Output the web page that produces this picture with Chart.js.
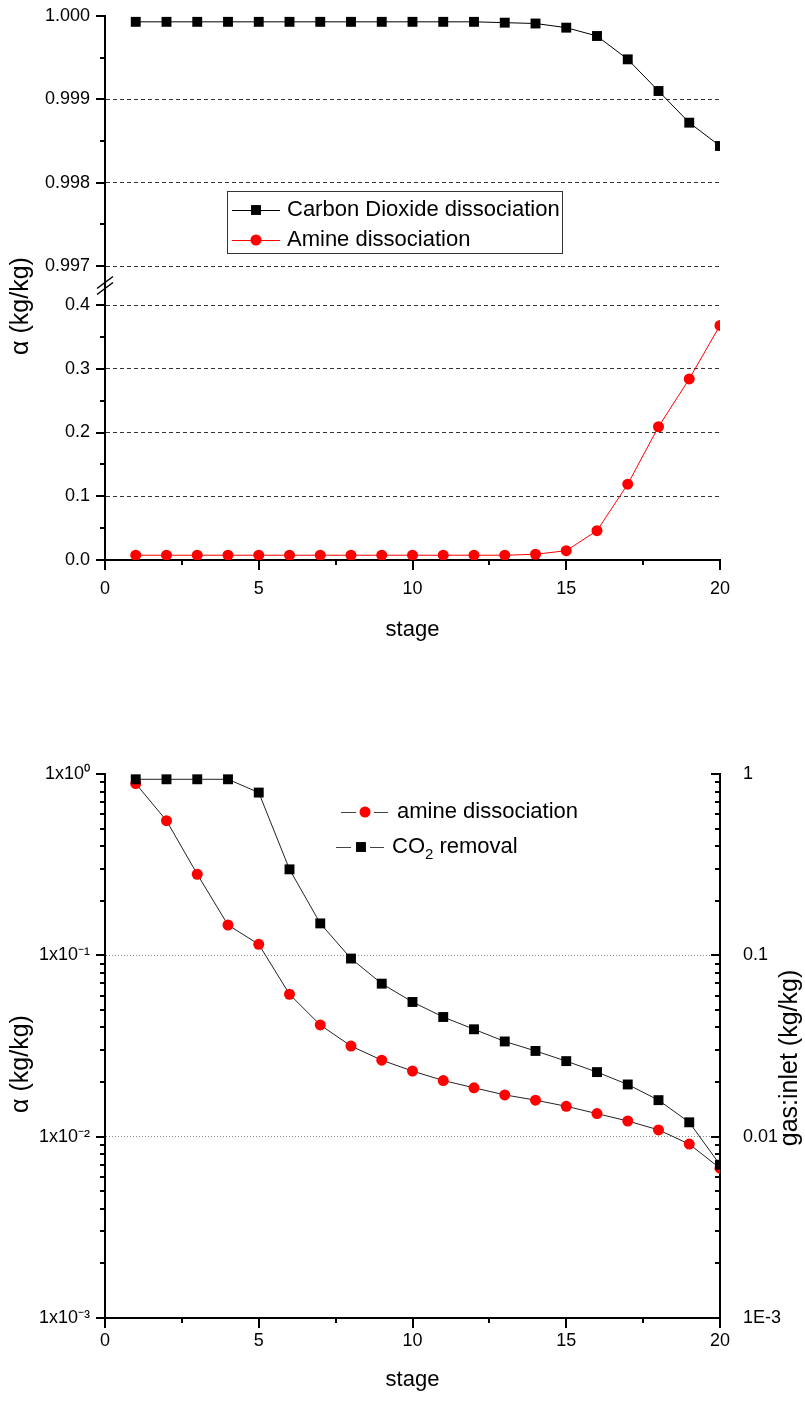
<!DOCTYPE html>
<html><head><meta charset="utf-8">
<script src="https://cdn.jsdelivr.net/npm/chart.js@4"></script>
<style>
html,body{margin:0;padding:0;background:#fff;}
canvas{display:block;}
</style></head><body>
<canvas id="c1" width="805" height="700"></canvas>
<canvas id="c2" width="805" height="704"></canvas>
<script>
const FONT='"Liberation Sans",Arial,sans-serif';
Chart.defaults.font.family=FONT;
Chart.defaults.color="#000";
Chart.defaults.animation=false;
const H=Chart.helpers;

// data
const STAGES=[1,2,3,4,5,6,7,8,9,10,11,12,13,14,15,16,17,18,19,20];
const CO2_DISS=[0.99993,0.99993,0.99993,0.99993,0.99993,0.99993,0.99993,0.99993,0.99993,0.99993,0.99993,0.99993,0.99992,0.99991,0.99986,0.99976,0.99948,0.99910,0.99872,0.99844];
const AMINE_DISS=[0.0075,0.0075,0.0075,0.0075,0.0075,0.0075,0.0075,0.0075,0.0075,0.0075,0.0075,0.0075,0.0075,0.009,0.0146,0.046,0.119,0.209,0.284,0.368];
const AMINE_LOG=[0.885,0.553,0.280,0.147,0.115,0.061,0.0413,0.0316,0.0264,0.0230,0.0204,0.0186,0.0170,0.0159,0.0147,0.0134,0.0122,0.0109,0.0091,0.0067];
const CO2_REMOVAL=[0.935,0.935,0.935,0.935,0.79,0.298,0.150,0.096,0.0698,0.0553,0.0457,0.0391,0.0335,0.0297,0.0261,0.0227,0.0194,0.0159,0.0120,0.0070];

// ticks
const X_MAJOR=[0,5,10,15,20], X_MINOR=[2.5,7.5,12.5,17.5];
const TOP_MAJOR=[0.997,0.998,0.999,1.000], TOP_MINOR=[0.9975,0.9985,0.9995];
const BOT_MAJOR=[0,0.1,0.2,0.3,0.4], BOT_MINOR=[0.05,0.15,0.25,0.35];
const LOG_MAJOR=[0.001,0.01,0.1,1];
const LOG_LEFT_LABELS=["1x10\u207B\u00B3","1x10\u207B\u00B2","1x10\u207B\u00B9","1x10\u2070"];
const LOG_RIGHT_LABELS=["1E-3","0.01","0.1","1"];
const LOG_MINOR=[];
[0.001,0.01,0.1].forEach(d=>{for(let k=2;k<=9;k++)LOG_MINOR.push(d*k);});

const pts=ys=>STAGES.map((x,i)=>({x,y:ys[i]}));
const fixW=w=>s=>{s.width=w;s.paddingTop=0;s.paddingBottom=0;};
const fixH=h=>s=>{s.height=h;};
const setTicks=vals=>s=>{s.ticks=vals.map(v=>({value:v}));};
const tickFont={size:18,family:FONT};
const titleFont={size:22,family:FONT};

// tick marks: [scaleId, values, length, direction]
function tickMarks(list){
  return {id:"tickMarks",afterDraw(chart){
    const ctx=chart.ctx,a=chart.chartArea;
    ctx.save();ctx.strokeStyle="#000";ctx.lineWidth=2;
    list.forEach(([id,vals,len,dir])=>{
      const s=chart.scales[id];
      vals.forEach(v=>{
        const p=Math.round(s.getPixelForValue(v));
        ctx.beginPath();
        if(s.isHorizontal()){ctx.moveTo(p,a.bottom);ctx.lineTo(p,a.bottom+len*dir);}
        else{const x=s.position==="left"?a.left:a.right;ctx.moveTo(x,p);ctx.lineTo(x+len*dir,p);}
        ctx.stroke();
      });
    });
    ctx.restore();
  }};
}

// vertical axis titles, reading bottom to top: [text, x, offset from chart-area middle]
function vTitles(list){
  return {id:"vTitles",afterDraw(chart){
    const a=chart.chartArea,ctx=chart.ctx;
    list.forEach(([t,x,dy])=>{
      ctx.save();ctx.translate(x,(a.top+a.bottom)/2+dy);ctx.rotate(-Math.PI/2);
      ctx.font="25px "+FONT;ctx.fillStyle="#000";ctx.textAlign="center";ctx.textBaseline="middle";
      ctx.fillText(t,0,0);ctx.restore();
    });
  }};
}

function legend(items,box){
  return {id:"boxLegend",afterDraw(chart){
    const ctx=chart.ctx;ctx.save();
    if(box){ctx.strokeStyle="#333";ctx.lineWidth=1;ctx.strokeRect(box[0]+.5,box[1]+.5,box[2],box[3]);}
    items.forEach(it=>{
      const ds=chart.data.datasets[it.ds];
      ctx.strokeStyle=it.line||ds.borderColor;ctx.lineWidth=1;
      it.segs.forEach(([a,b])=>{ctx.beginPath();ctx.moveTo(a,it.y+.5);ctx.lineTo(b,it.y+.5);ctx.stroke();});
      ctx.fillStyle=ds.pointBackgroundColor;
      H.drawPoint(ctx,{pointStyle:ds.pointStyle,radius:ds.pointRadius,rotation:0,borderWidth:0},it.mx,it.y);
      ctx.fillStyle="#000";ctx.textBaseline="middle";ctx.textAlign="left";
      let x=it.tx;
      it.text.forEach(([t,sub])=>{
        ctx.font=(sub?"15px ":"22px ")+FONT;
        ctx.fillText(t,x,it.y+(sub?8:0));
        x+=ctx.measureText(t).width;
      });
    });
    ctx.restore();
  }};
}

// axis break marks on the top chart
const breakMarks={id:"breakMarks",afterDraw(chart){
  const s=chart.scales.yGap,ctx=chart.ctx,x=chart.chartArea.left,yc=(s.top+s.bottom)/2;
  ctx.save();ctx.strokeStyle="#000";ctx.lineWidth=1.5;
  [-3,3].forEach(d=>{ctx.beginPath();ctx.moveTo(x-8,yc+d+6);ctx.lineTo(x+8,yc+d-6);ctx.stroke();});
  ctx.restore();
}};

const DASH_GRID="#333";
new Chart(document.getElementById("c1"),{type:"line",
  data:{datasets:[
    {label:"Carbon Dioxide dissociation",data:pts(CO2_DISS),yAxisID:"yTop",borderColor:"#000",borderWidth:1,
      pointStyle:"rect",pointRadius:7,pointBackgroundColor:"#000",pointBorderWidth:0,tension:0},
    {label:"Amine dissociation",data:pts(AMINE_DISS),yAxisID:"yBot",borderColor:"#ff0000",borderWidth:1,
      pointStyle:"circle",pointRadius:5.5,pointBackgroundColor:"#ff0000",pointBorderWidth:0,tension:0},
  ]},
  options:{responsive:false,layout:{padding:{top:16,right:85,bottom:50,left:0}},
    scales:{
      x:{type:"linear",min:0,max:20,afterBuildTicks:setTicks(X_MAJOR),afterFit:fixH(90),
        grid:{display:false},border:{display:true,color:"#000",width:2},
        ticks:{font:tickFont,padding:10,autoSkip:false,maxRotation:0},
        title:{display:true,text:"stage",font:titleFont,padding:{top:0,bottom:7}}},
      yTop:{type:"linear",position:"left",stack:"left",stackWeight:250,weight:3,min:0.997,max:1.000,
        afterBuildTicks:setTicks(TOP_MAJOR),afterFit:fixW(105),
        grid:{drawTicks:false,lineWidth:1,color:c=>c.tick&&c.tick.value===1?"transparent":DASH_GRID},
        border:{display:true,color:"#000",width:2,dash:[4,3]},
        ticks:{font:tickFont,padding:15,autoSkip:false,callback:v=>v.toFixed(3)}},
      yGap:{type:"linear",position:"left",stack:"left",stackWeight:39,weight:2,min:0,max:1,afterFit:fixW(105),
        grid:{display:false},ticks:{display:false},border:{display:true,color:"#000",width:2}},
      yBot:{type:"linear",position:"left",stack:"left",stackWeight:255,weight:1,min:0,max:0.4,
        afterBuildTicks:setTicks(BOT_MAJOR),afterFit:fixW(105),
        grid:{drawTicks:false,lineWidth:1,color:c=>c.tick&&c.tick.value===0?"transparent":DASH_GRID},
        border:{display:true,color:"#000",width:2,dash:[4,3]},
        ticks:{font:tickFont,padding:15,autoSkip:false,callback:v=>v.toFixed(1)}},
    },
    plugins:{legend:{display:false},tooltip:{enabled:false}}},
  plugins:[
    tickMarks([["x",X_MAJOR,10,1],["x",X_MINOR,5,1],["yTop",TOP_MAJOR,9,-1],["yTop",TOP_MINOR,5,-1],
      ["yBot",BOT_MAJOR,9,-1],["yBot",BOT_MINOR,5,-1]]),
    breakMarks,
    vTitles([["\u03B1 (kg/kg)",21,18]]),
    legend([
      {ds:0,y:210,segs:[[232,280]],mx:256,tx:287,text:[["Carbon Dioxide dissociation"]]},
      {ds:1,y:240,segs:[[232,280]],mx:256,tx:287,text:[["Amine dissociation"]]},
    ],[227,191,335,62]),
  ]});

const DOT_GRID="#8a8a8a";
new Chart(document.getElementById("c2"),{type:"line",
  data:{datasets:[
    {label:"CO2 removal",data:pts(CO2_REMOVAL),yAxisID:"y2",borderColor:"#222",borderWidth:1,
      pointStyle:"rect",pointRadius:7,pointBackgroundColor:"#000",pointBorderWidth:0,tension:0},
    {label:"amine dissociation",data:pts(AMINE_LOG),yAxisID:"y",borderColor:"#222",borderWidth:1,
      pointStyle:"circle",pointRadius:5.5,pointBackgroundColor:"#ff0000",pointBorderWidth:0,tension:0},
  ]},
  options:{responsive:false,layout:{padding:{top:74,right:0,bottom:6,left:0}},
    scales:{
      x:{type:"linear",min:0,max:20,afterBuildTicks:setTicks(X_MAJOR),afterFit:fixH(80),
        grid:{display:false},border:{display:true,color:"#000",width:2},
        ticks:{font:tickFont,padding:4,autoSkip:false,maxRotation:0},
        title:{display:true,text:"stage",font:titleFont,padding:{top:0,bottom:5}}},
      y:{type:"logarithmic",position:"left",min:0.001,max:1,afterBuildTicks:setTicks(LOG_MAJOR),afterFit:fixW(105),
        grid:{drawTicks:false,lineWidth:1,color:c=>c.tick&&(c.tick.value===0.1||c.tick.value===0.01)?DOT_GRID:"transparent"},
        border:{display:true,color:"#000",width:2,dash:[1,2]},
        ticks:{font:tickFont,padding:15,autoSkip:false,callback:(v,i)=>LOG_LEFT_LABELS[i]}},
      y2:{type:"logarithmic",position:"right",min:0.001,max:1,afterBuildTicks:setTicks(LOG_MAJOR),afterFit:fixW(85),
        grid:{display:false},border:{display:true,color:"#000",width:2},
        ticks:{font:tickFont,padding:15,autoSkip:false,callback:(v,i)=>LOG_RIGHT_LABELS[i]}},
    },
    plugins:{legend:{display:false},tooltip:{enabled:false}}},
  plugins:[
    tickMarks([["x",X_MAJOR,10,1],["x",X_MINOR,5,1],["y",LOG_MAJOR,9,-1],["y",LOG_MINOR,5,-1],
      ["y2",LOG_MAJOR,9,-1],["y2",LOG_MINOR,5,-1]]),
    vTitles([["\u03B1 (kg/kg)",21,18],["gas:inlet (kg/kg)",790,12]]),
    legend([
      {ds:1,y:112,line:"#444",segs:[[341,356],[374,388]],mx:365,tx:397,text:[["amine dissociation"]]},
      {ds:0,y:147,line:"#444",segs:[[336,351],[370,384]],mx:361,tx:392,text:[["CO"],["2",true],[" removal"]]},
    ]),
  ]});
</script>
</body></html>
